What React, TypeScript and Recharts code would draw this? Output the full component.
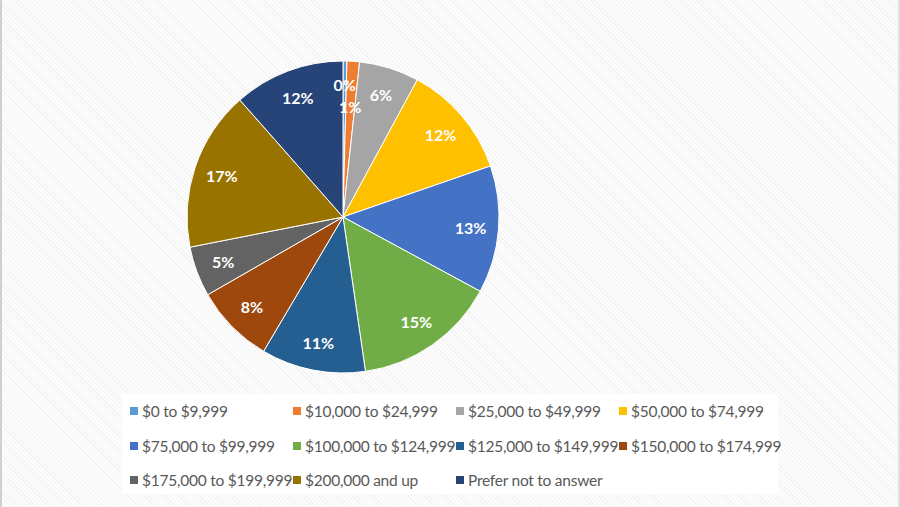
import { PieChart, Pie, Cell, Legend } from 'recharts';

const categories = [
  '$0 to $9,999',
  '$10,000 to $24,999',
  '$25,000 to $49,999',
  '$50,000 to $74,999',
  '$75,000 to $99,999',
  '$100,000 to $124,999',
  '$125,000 to $149,999',
  '$150,000 to $174,999',
  '$175,000 to $199,999',
  '$200,000 and up',
  'Prefer not to answer',
];

const shares = [0.4, 1.3, 6.2, 11.8, 13.2, 14.8, 10.8, 8.2, 5.2, 16.6, 11.5];

const COLORS = [
  '#5B9BD5', '#ED7D31', '#A5A5A5', '#FFC000', '#4472C4', '#70AD47',
  '#255E91', '#9E480E', '#636363', '#997300', '#264478',
];

const data = categories.map((name, i) => ({ name, value: shares[i] }));

const RADIAN = Math.PI / 180;

const renderLabel = (props: any) => {
  const { cx, cy, midAngle, outerRadius, percent, index } = props;
  // excel spreads the two tiny labels apart (0% out, 1% in)
  const k = index === 0 ? 0.85 : index === 1 ? 0.71 : 0.82;
  const r = outerRadius * k;
  const x = cx + r * Math.cos(-midAngle * RADIAN);
  const y = cy + r * Math.sin(-midAngle * RADIAN);
  return (
    <text
      x={x}
      y={y}
      fill="#fff"
      textAnchor="middle"
      dominantBaseline="central"
      style={{ fontFamily: 'Lato, sans-serif', fontWeight: 700, fontSize: 16 }}
    >
      {`${Math.round(percent * 100)}%`}
    </text>
  );
};

const LegendGrid = () => (
  <div
    style={{
      background: '#fff',
      width: 656,
      height: 100,
      boxSizing: 'border-box',
      padding: '0 0 0 8px',
      display: 'grid',
      gridTemplateColumns: '163px 163px 163px 163px',
      gridAutoRows: '34.5px',
      fontFamily: 'Lato, sans-serif',
      fontSize: 15.5,
      letterSpacing: -0.25,
      color: '#595959',
    }}
  >
    {categories.map((c, i) => (
      <div key={c} style={{ display: 'flex', alignItems: 'center', whiteSpace: 'nowrap' }}>
        <span style={{ width: 8, height: 8, background: COLORS[i], marginRight: 4, display: 'inline-block', flexShrink: 0 }} />
        <span>{c}</span>
      </div>
    ))}
  </div>
);

export default function App() {
  return (
    <div
      style={{
        width: 900,
        height: 507,
        position: 'fixed',
        left: 0,
        top: 0,
        boxSizing: 'border-box',
        borderLeft: '2px solid #d0d0d0',
        borderRight: '2px solid #e0e0e0',
        background: 'repeating-linear-gradient(45deg, #f3f3f3 0px, #f3f3f3 1px, #fdfdfd 1px, #fdfdfd 3px)',
      }}
    >
      <div style={{ position: 'absolute', left: -2, top: 0 }}>
        <PieChart width={900} height={507} margin={{ top: 0, right: 0, bottom: 0, left: 0 }}>
          <Pie
            data={data}
            dataKey="value"
            cx={343}
            cy={217}
            outerRadius={156}
            startAngle={90}
            endAngle={-270}
            stroke="#fff"
            strokeWidth={1}
            label={renderLabel}
            labelLine={false}
            isAnimationActive={false}
          >
            {data.map((d, i) => (
              <Cell key={d.name} fill={COLORS[i]} />
            ))}
          </Pie>
          <Legend
            content={<LegendGrid />}
            wrapperStyle={{ position: 'absolute', left: 122, top: 394, width: 656, height: 100 }}
          />
        </PieChart>
      </div>
    </div>
  );
}
